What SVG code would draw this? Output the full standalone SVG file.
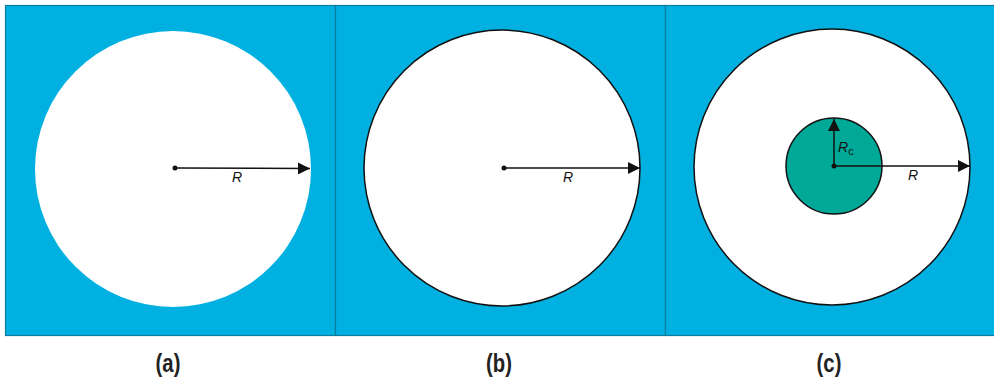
<svg xmlns="http://www.w3.org/2000/svg" width="994" height="379" viewBox="0 0 994 379">
<defs>
<style>
.panel{fill:#00b0e0;stroke:#0b7ca0;stroke-width:1.2}
.disk{fill:#ffffff}
.disk-s{fill:#ffffff;stroke:#111;stroke-width:1.5}
.core{fill:#00a898;stroke:#111;stroke-width:1.5}
.ray{stroke:#111;stroke-width:1.5;fill:none}
.lbl{font-family:"Liberation Sans",Arial,sans-serif;font-style:italic;font-size:14px;fill:#111}
.cap{font-family:"Liberation Sans",Arial,sans-serif;font-weight:bold;font-size:26px;fill:#222}
</style>
<marker id="ah" viewBox="0 0 10 10" refX="10" refY="5" markerWidth="12" markerHeight="12" markerUnits="userSpaceOnUse" orient="auto">
<path d="M0,0 L10,5 L0,10 z" fill="#111"/>
</marker>
</defs>
<g id="panel-a">
<rect class="panel" x="5.5" y="5.5" width="330" height="330"/>
<circle class="disk" cx="173" cy="169" r="138"/>
</g>
<g id="panel-b">
<rect class="panel" x="335.5" y="5.5" width="330" height="330"/>
<circle class="disk-s" cx="502" cy="168" r="138"/>
</g>
<g id="panel-c">
<rect class="panel" x="665.5" y="5.5" width="332" height="330"/>
<circle class="disk-s" cx="832" cy="167" r="138"/>
<circle class="core" cx="834" cy="166" r="48"/>
</g>
<g id="connectors">
<line class="ray" x1="175" y1="168" x2="310" y2="168.5" marker-end="url(#ah)"/>
<circle cx="175" cy="168" r="2.5" fill="#111"/>
<line class="ray" x1="504" y1="168" x2="640" y2="168" marker-end="url(#ah)"/>
<circle cx="504" cy="168" r="2.5" fill="#111"/>
<line class="ray" x1="834" y1="166" x2="970" y2="166" marker-end="url(#ah)"/>
<line class="ray" x1="834" y1="166" x2="834" y2="119" marker-end="url(#ah)"/>
<circle cx="834" cy="166" r="2.5" fill="#111"/>
</g>
<g id="labels">
<text class="lbl" x="232" y="182">R</text>
<text class="lbl" x="563" y="182">R</text>
<text class="lbl" x="908" y="180">R</text>
<text class="lbl" x="838" y="152">R<tspan font-style="normal" font-size="11" dy="3">c</tspan></text>
<text class="cap" transform="translate(168,372) scale(0.78,1)" text-anchor="middle">(a)</text>
<text class="cap" transform="translate(499,372) scale(0.78,1)" text-anchor="middle">(b)</text>
<text class="cap" transform="translate(829,372) scale(0.78,1)" text-anchor="middle">(c)</text>
</g>
</svg>
